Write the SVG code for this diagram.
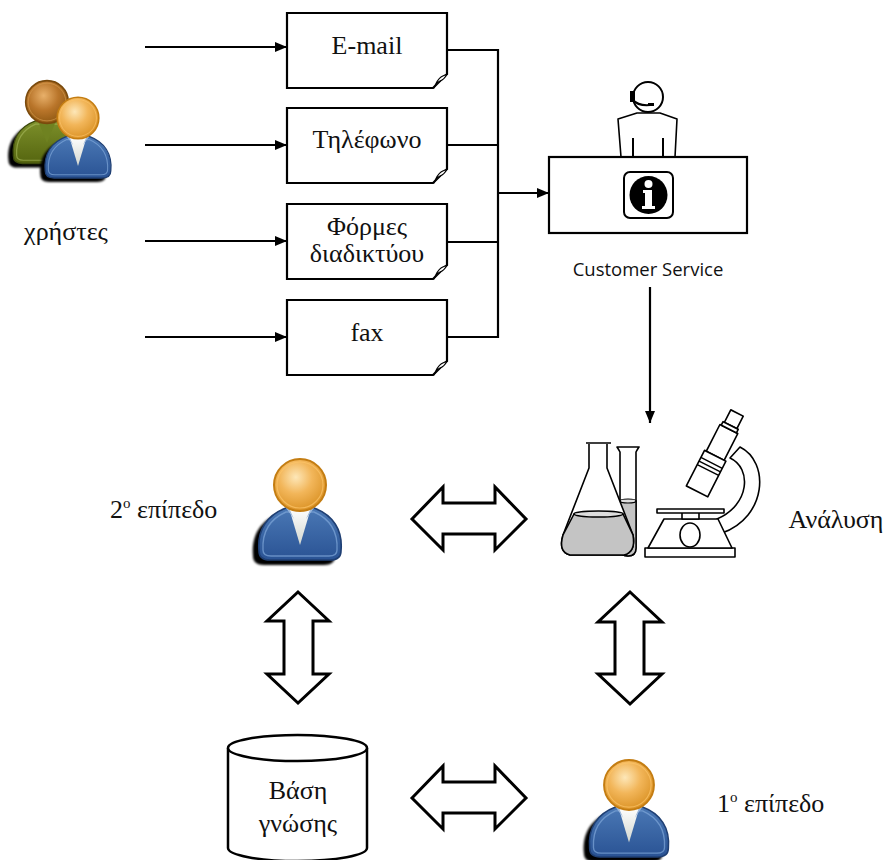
<svg xmlns="http://www.w3.org/2000/svg" xmlns:xlink="http://www.w3.org/1999/xlink" width="886" height="860" viewBox="0 0 886 860">
  <style>
    .lbl { font-family: "Liberation Serif", "DejaVu Serif", serif; font-size: 26px; fill: #111; }
    .cs { font-family: "Open Sans", "Liberation Sans", sans-serif; font-size: 18.5px; fill: #111; }
    .doc { fill: #fff; stroke: #000; stroke-width: 2.2; stroke-linejoin: miter; }
    .curl { fill: #fff; stroke: #000; stroke-width: 1.1; stroke-linejoin: round; }
    .wire { fill: none; stroke: #000; stroke-width: 2.2; }
    .dbl { fill: #fff; stroke: #000; stroke-width: 3; stroke-linejoin: miter; }
    .ln { fill: #fff; stroke: #000; stroke-width: 1.6; stroke-linejoin: round; }
  </style>
  <defs>
    <marker id="ah" markerWidth="12" markerHeight="10" refX="12" refY="5" orient="auto" markerUnits="userSpaceOnUse">
      <path d="M0,0 L12,5 L0,10 Z" fill="#000"/>
    </marker>
    <radialGradient id="headOrange" cx="0.42" cy="0.35" r="0.7">
      <stop offset="0" stop-color="#fde7b8"/>
      <stop offset="0.45" stop-color="#f2b65a"/>
      <stop offset="1" stop-color="#d88e1f"/>
    </radialGradient>
    <radialGradient id="headBrown" cx="0.42" cy="0.35" r="0.7">
      <stop offset="0" stop-color="#e8b06a"/>
      <stop offset="0.5" stop-color="#b9752a"/>
      <stop offset="1" stop-color="#8a5510"/>
    </radialGradient>
    <linearGradient id="bodyBlue" x1="0" y1="0" x2="0" y2="1">
      <stop offset="0" stop-color="#4a78b5"/>
      <stop offset="1" stop-color="#2a5394"/>
    </linearGradient>
    <linearGradient id="bodyGreen" x1="0" y1="0" x2="0" y2="1">
      <stop offset="0" stop-color="#7c8f2a"/>
      <stop offset="1" stop-color="#55650f"/>
    </linearGradient>
    <linearGradient id="shirt" x1="0" y1="0" x2="0" y2="1">
      <stop offset="0" stop-color="#ffffff"/>
      <stop offset="1" stop-color="#d3d7cf"/>
    </linearGradient>
    <filter id="soft" x="-20%" y="-20%" width="140%" height="140%">
      <feGaussianBlur stdDeviation="1.2"/>
    </filter>
    <path id="bodyShape" d="M-41,66 C-43,45 -33,30 -14,23 L14,23 C33,30 43,45 41,66 C41,72 37,75 30,75 L-30,75 C-37,75 -41,72 -41,66 Z"/>
    <!-- folded page corner, placed at the bottom-right of each channel box -->
    <path id="corner" class="curl" d="M-13,0 C-11,-5 -9,-9 -6,-11 C-3,-13 -1,-13 0,-14 C-2,-10 -4,-8 -7,-7 C-9,-6 -11,-4 -13,0 Z"/>

    <!-- blue-suited person, head centred at 0,0 -->
    <g id="personBlue">
      <use xlink:href="#bodyShape" transform="translate(-6,5)" fill="#000" filter="url(#soft)"/>
      <use xlink:href="#bodyShape" fill="url(#bodyBlue)" stroke="#1f3f73" stroke-width="1.6"/>
      <path d="M-37,65 C-38,47 -30,34 -14,27 L14,27 C30,34 38,47 37,65 C37,69 34,71 29,71 L-29,71 C-34,71 -37,69 -37,65 Z" fill="none" stroke="#7fa6d8" stroke-width="1.4" opacity="0.7"/>
      <path d="M-11,23 L0,60 L11,23 Z" fill="url(#shirt)"/>
      <path d="M-14,23 L-6,34 L-11,23 Z M14,23 L6,34 L11,23 Z" fill="#9cb8dc"/>
      <circle r="26" fill="url(#headOrange)" stroke="#c47d12" stroke-width="2"/>
      <circle r="23" fill="none" stroke="#fcc46a" stroke-width="1.2" opacity="0.7"/>
    </g>

    <!-- green-suited person, head centred at 0,0 -->
    <g id="personGreen">
      <use xlink:href="#bodyShape" transform="translate(-6,5)" fill="#000" filter="url(#soft)"/>
      <use xlink:href="#bodyShape" fill="url(#bodyGreen)" stroke="#3d4a0c" stroke-width="1.6"/>
      <path d="M-37,65 C-38,47 -30,34 -14,27 L14,27 C30,34 38,47 37,65 C37,69 34,71 29,71 L-29,71 C-34,71 -37,69 -37,65 Z" fill="none" stroke="#a3b457" stroke-width="1.4" opacity="0.7"/>
      <path d="M-11,23 L0,50 L11,23 Z" fill="#6f8221"/>
      <circle r="26" fill="url(#headBrown)" stroke="#7a4a0c" stroke-width="2"/>
      <circle r="23" fill="none" stroke="#d49a4e" stroke-width="1.2" opacity="0.7"/>
    </g>
  </defs>

  <rect x="0" y="0" width="886" height="860" fill="#fff"/>

  <!-- users -->
  <g id="users">
    <use xlink:href="#personGreen" transform="translate(47,102) scale(0.82)"/>
    <use xlink:href="#personBlue" transform="translate(78,118) scale(0.8)"/>
    <text class="lbl" x="66" y="240" text-anchor="middle">χρήστες</text>
  </g>

  <!-- channels -->
  <g id="email">
    <path class="doc" d="M287,13 H447 V74 L433,88 H287 Z"/>
    <use xlink:href="#corner" transform="translate(447,88)"/>
    <text class="lbl" x="367" y="54" text-anchor="middle">E-mail</text>
  </g>
  <g id="phone">
    <path class="doc" d="M287,108 H447 V169 L433,183 H287 Z"/>
    <use xlink:href="#corner" transform="translate(447,183)"/>
    <text class="lbl" x="367" y="148" text-anchor="middle">Τηλέφωνο</text>
  </g>
  <g id="webforms">
    <path class="doc" d="M287,204 H447 V265 L433,279 H287 Z"/>
    <use xlink:href="#corner" transform="translate(447,279)"/>
    <text class="lbl" x="367" y="235" text-anchor="middle">Φόρμες</text>
    <text class="lbl" x="367" y="262" text-anchor="middle">διαδικτύου</text>
  </g>
  <g id="fax">
    <path class="doc" d="M287,300 H447 V361 L433,375 H287 Z"/>
    <use xlink:href="#corner" transform="translate(447,375)"/>
    <text class="lbl" x="367" y="341" text-anchor="middle">fax</text>
  </g>

  <!-- help desk -->
  <g id="customer-service">
    <path class="ln" stroke-width="2" d="M621,157 L618,119 L637,113 L660,113 L677,119 L675,157"/>
    <path fill="none" stroke="#000" stroke-width="2" d="M633,138 V157 M663,138 V157"/>
    <circle cx="648" cy="97" r="15" fill="#fff" stroke="#000" stroke-width="2"/>
    <rect x="630" y="91" width="5" height="11" fill="#000"/>
    <path d="M633,100 Q638,106 650,105" fill="none" stroke="#000" stroke-width="2"/>
    <rect x="648" y="103" width="6" height="3" fill="#000"/>
    <rect x="549" y="157" width="198" height="76" fill="#fff" stroke="#000" stroke-width="2.2"/>
    <rect x="624" y="172" width="49" height="46" rx="6" fill="#fff" stroke="#000" stroke-width="2"/>
    <circle cx="648.5" cy="195" r="19" fill="#000"/>
    <circle cx="648.5" cy="184" r="4" fill="#fff"/>
    <path d="M643,190 H652 V206 H655 V209 H642 V206 H645 V193 H643 Z" fill="#fff"/>
    <text class="cs" x="648" y="276" text-anchor="middle">Customer Service</text>
  </g>

  <!-- analysis (lab equipment) -->
  <g id="analysis">
    <!-- test tube -->
    <path class="ln" d="M617,447 Q619,450 620,452 V548 Q620,556 628,556 Q636,556 636,548 V452 Q637,450 639,447 Z"/>
    <path d="M620,501 V548 Q620,556 628,556 Q636,556 636,548 V501 Z" fill="#c4c4c4" stroke="#000" stroke-width="1.4"/>
    <ellipse cx="628" cy="501" rx="8" ry="2" fill="#ddd" stroke="#000" stroke-width="1.2"/>
    <!-- flask -->
    <path class="ln" d="M586,443 H611 M589,444 V468 L563,535 Q558,552 570,555 H624 Q636,552 633,535 L607,468 V444"/>
    <path d="M574,514 L563,535 Q558,552 570,555 H624 Q636,552 633,535 L623,514 Z" fill="#c4c4c4" stroke="#000" stroke-width="1.6"/>
    <ellipse cx="598.5" cy="514" rx="24.5" ry="3" fill="#ddd" stroke="#000" stroke-width="1.4"/>
    <!-- microscope -->
    <path class="ln" d="M717,519 C750,505 752,468 730,458 L740,447 C770,462 767,517 722,533 Z"/>
    <rect class="ln" x="645" y="548" width="90" height="9"/>
    <path class="ln" d="M648,548 L664,519 H718 L732,548 Z"/>
    <rect class="ln" x="682" y="512" width="17" height="7"/>
    <rect class="ln" x="657" y="509" width="67" height="4"/>
    <ellipse class="ln" cx="690" cy="535" rx="10" ry="12"/>
    <g transform="translate(737,413) rotate(27)">
      <rect class="ln" x="-10" y="18" width="20" height="30"/>
      <rect class="ln" x="-12" y="48" width="24" height="40"/>
      <path d="M-12,56 H12 M-12,60 H12 M-12,64 H12" stroke="#000" stroke-width="1.4"/>
      <rect class="ln" x="-7" y="0" width="14" height="14"/>
      <rect class="ln" x="-8.5" y="14" width="17" height="4"/>
    </g>
    <text class="lbl" x="836" y="528" text-anchor="middle">Ανάλυση</text>
  </g>

  <!-- second level support -->
  <g id="level2">
    <use xlink:href="#personBlue" transform="translate(300,485)"/>
    <text class="lbl" x="110" y="518">2<tspan font-size="15" dy="-10">ο</tspan><tspan dy="10"> επίπεδο</tspan></text>
  </g>

  <!-- first level support -->
  <g id="level1">
    <use xlink:href="#personBlue" transform="translate(629,785) scale(0.96)"/>
    <text class="lbl" x="717" y="812">1<tspan font-size="15" dy="-10">ο</tspan><tspan dy="10"> επίπεδο</tspan></text>
  </g>

  <!-- knowledge base -->
  <g id="knowledge-base">
    <path fill="#fff" stroke="#000" stroke-width="2.5" d="M228,748 V848 A69.5,13 0 0 0 367,848 V748"/>
    <ellipse cx="297.5" cy="748" rx="69.5" ry="13" fill="#fff" stroke="#000" stroke-width="2.5"/>
    <text class="lbl" x="298" y="799" text-anchor="middle">Βάση</text>
    <text class="lbl" x="298" y="832" text-anchor="middle">γνώσης</text>
  </g>

  <!-- connectors -->
  <g id="connectors">
    <line class="wire" x1="145" y1="47" x2="287" y2="47" marker-end="url(#ah)"/>
    <line class="wire" x1="145" y1="145" x2="287" y2="145" marker-end="url(#ah)"/>
    <line class="wire" x1="145" y1="241" x2="287" y2="241" marker-end="url(#ah)"/>
    <line class="wire" x1="145" y1="337" x2="287" y2="337" marker-end="url(#ah)"/>
    <path class="wire" d="M447,50 H498 V337 H447 M447,145 H498 M447,242 H498"/>
    <line class="wire" x1="498" y1="193" x2="549" y2="193" marker-end="url(#ah)"/>
    <line class="wire" x1="650" y1="287" x2="650" y2="423" marker-end="url(#ah)"/>
    <polygon class="dbl" points="412,519 443,487 443,503 495,503 495,487 526,519 495,550 495,534 443,534 443,550"/>
    <polygon class="dbl" points="412,798 443,766 443,782 495,782 495,766 526,798 495,829 495,813 443,813 443,829"/>
    <polygon class="dbl" points="298,592 329,621 313,621 313,674 329,674 298,703 267,674 284,674 284,621 267,621"/>
    <polygon class="dbl" points="630,592 662,622 644,622 644,674 662,674 630,704 598,674 615,674 615,622 598,622"/>
  </g>
</svg>
